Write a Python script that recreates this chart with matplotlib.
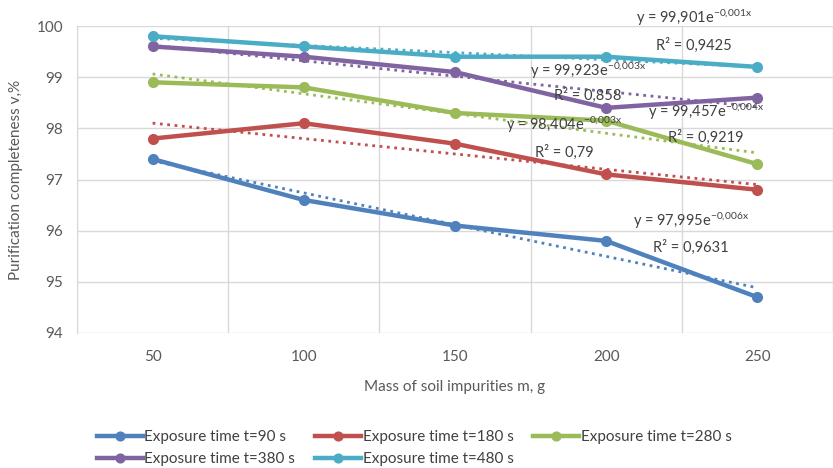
import numpy as np
import matplotlib.pyplot as plt

plt.rcParams['font.family'] = ['Lato', 'DejaVu Sans']

mass = [50, 100, 150, 200, 250]
t90 = [97.4, 96.6, 96.1, 95.8, 94.7]
t180 = [97.8, 98.1, 97.7, 97.1, 96.8]
t280 = [98.9, 98.8, 98.3, 98.15, 97.3]
t380 = [99.6, 99.4, 99.1, 98.4, 98.6]
t480 = [99.8, 99.6, 99.4, 99.4, 99.2]
labels = ["Exposure time t=90 s", "Exposure time t=180 s", "Exposure time t=280 s",
          "Exposure time t=380 s", "Exposure time t=480 s"]
colors = ["#4F81BD", "#C0504D", "#9BBB59", "#8064A2", "#4BACC6"]

# equation labels: (coef, exponent, R2, x pos, y pos eq, y pos R2)
eqs = [
    ("97{,}995", "0{,}006", "0,9631", 3.56, 96.19, 95.68),
    ("98{,}404", "0{,}003", "0,79", 2.72, 98.07, 97.54),
    ("99{,}457", "0{,}004", "0,9219", 3.66, 98.32, 97.83),
    ("99{,}923", "0{,}003", "0,858", 2.88, 99.12, 98.65),
    ("99{,}901", "0{,}001", "0,9425", 3.58, 100.16, 99.63),
]

fig = plt.figure(figsize=(8.33, 4.68), dpi=100)
ax = fig.add_axes([77/833, (468-333)/468, 756/833, 307/468])

pos = np.arange(len(mass))
xfit = np.arange(1, len(mass) + 1)
series = [t90, t180, t280, t380, t480]

handles = []
for s, lab, c in zip(series, labels, colors):
    b, a = np.polyfit(xfit, np.log(s), 1)
    xx = np.linspace(1, 5, 50)
    ax.plot(xx - 1, np.exp(a) * np.exp(b * xx), linestyle=':', color=c, linewidth=2, zorder=2)
    h, = ax.plot(pos, s, color=c, linewidth=3.2, marker='o', markersize=7, label=lab, zorder=3)
    handles.append(h)

for coef, expo, r2, x, ye, yr in eqs:
    ax.text(x, ye, r"y = " + "$\\mathregular{" + coef + "e^{-" + expo + "x}}$",
            ha='center', va='center', fontsize=10.5, color='#404040', zorder=5)
    ax.text(x, yr, "R² = " + r2, ha='center', va='center', fontsize=10.5,
            color='#404040', zorder=5)

ax.set_xlim(-0.5, -0.5 + 756/153)
ax.set_ylim(94, 100)
ax.set_xticks(pos)
ax.set_xticklabels([str(m) for m in mass])
ax.set_yticks(range(94, 101))
ax.set_xticks(np.arange(-0.5, 5, 1), minor=True)
ax.tick_params(axis='both', which='both', length=0, labelsize=11, colors='#595959', pad=12)
ax.tick_params(axis='y', pad=10)
ax.grid(axis='y', which='major', color='#D9D9D9', linewidth=1)
ax.grid(axis='x', which='minor', color='#D9D9D9', linewidth=1)
ax.set_axisbelow(True)
for sp in ax.spines.values():
    sp.set_visible(False)
ax.spines['left'].set_visible(True)
ax.spines['left'].set_color('#D9D9D9')

ax.set_xlabel("Mass of soil impurities m, g", fontsize=11, color='#595959', labelpad=12)
ax.set_ylabel("Purification completeness v,%", fontsize=11, color='#595959', labelpad=10)

# legend fills by column, reorder so rows read 90,180,280 / 380,480
order = [0, 3, 1, 4, 2]
fig.legend([handles[i] for i in order], [labels[i] for i in order],
           loc='lower left', bbox_to_anchor=(0.1, -0.025), ncol=3, frameon=False,
           fontsize=11, handlelength=3.0, handletextpad=0.1, columnspacing=1.3,
           labelspacing=0.5, numpoints=1, markerscale=0.9, labelcolor='#404040')

fig.savefig("out.png", dpi=100)
